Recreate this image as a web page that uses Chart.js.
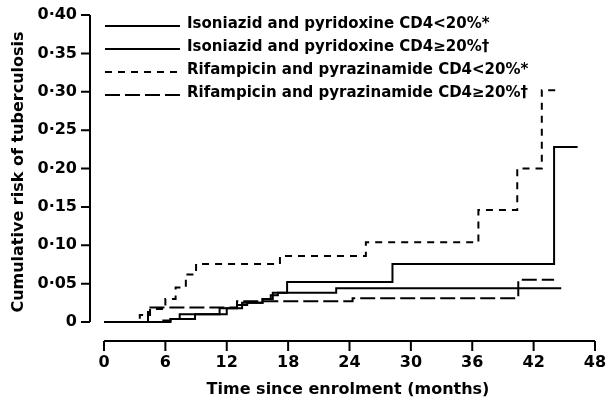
<!DOCTYPE html>
<html>
<head>
<meta charset="utf-8">
<script src="https://cdn.jsdelivr.net/npm/chart.js@4/dist/chart.umd.min.js"></script>
<style>
  html, body { margin: 0; padding: 0; background: #fff; }
  #wrap { width: 607px; height: 412px; }
</style>
</head>
<body>
<div id="wrap"><canvas id="kmChart" width="607" height="412"></canvas></div>
<script>
// Kaplan-Meier style step data (time in months, cumulative risk)
const seriesNames = [
  'Isoniazid and pyridoxine CD4<20%*',
  'Isoniazid and pyridoxine CD4\u226520%\u2020',
  'Rifampicin and pyrazinamide CD4<20%*',
  'Rifampicin and pyrazinamide CD4\u226520%\u2020'
];

const inhLowTime = [0, 5.8, 6.5, 7.4, 11.3, 13, 14, 15.5, 16.3, 17, 17.9, 28.2, 44, 46.3];
const inhLowRisk = [0, 0.002, 0.004, 0.01, 0.018, 0.022, 0.025, 0.03, 0.035, 0.038, 0.052, 0.0755, 0.228, 0.228];

const inhHighTime = [0, 6.5, 8.9, 12, 13.5, 15.5, 16.5, 22.7, 44.7];
const inhHighRisk = [0, 0.004, 0.01, 0.018, 0.025, 0.03, 0.038, 0.044, 0.044];

const rpLowTime = [0, 3.5, 4.5, 6, 7, 8, 9, 17.2, 25.6, 36.6, 40.4, 42.8, 44.7];
const rpLowRisk = [0, 0.009, 0.017, 0.03, 0.045, 0.062, 0.0755, 0.086, 0.104, 0.146, 0.20, 0.302, 0.302];

const rpHighTime = [0, 4.3, 13, 24.3, 40.5, 44];
const rpHighRisk = [0, 0.019, 0.027, 0.031, 0.055, 0.055];

const xTicks = [0, 6, 12, 18, 24, 30, 36, 42, 48];
const yTicks = [0, 0.05, 0.10, 0.15, 0.20, 0.25, 0.30, 0.35, 0.40];
const yTickLabels = ['0', '0\u00b705', '0\u00b710', '0\u00b715', '0\u00b720', '0\u00b725', '0\u00b730', '0\u00b735', '0\u00b740'];

const FONT = '"DejaVu Sans", sans-serif';
const INK = '#000';

function toPoints(times, risks) {
  return times.map((t, i) => ({ x: t, y: risks[i] }));
}

function stepSet(label, times, risks, dash) {
  return {
    label: label,
    data: toPoints(times, risks),
    borderColor: INK,
    borderWidth: 2,
    borderDash: dash,
    stepped: 'before',
    pointRadius: 0,
    fill: false,
    clip: false
  };
}

// draws the detached axes, titles and the in-plot legend
const axesPlugin = {
  id: 'axesPlugin',
  afterDraw(chart) {
    const ctx = chart.ctx;
    const xs = chart.scales.x;
    const ys = chart.scales.y;
    ctx.save();
    ctx.strokeStyle = INK;
    ctx.fillStyle = INK;
    ctx.lineWidth = 2;

    // y axis
    const axX = 90;
    ctx.beginPath();
    ctx.moveTo(axX, ys.getPixelForValue(0.40));
    ctx.lineTo(axX, ys.getPixelForValue(0));
    yTicks.forEach(v => {
      const py = ys.getPixelForValue(v);
      ctx.moveTo(axX, py);
      ctx.lineTo(axX - 9, py);
    });
    ctx.stroke();
    ctx.font = 'bold 16px ' + FONT;
    ctx.textAlign = 'right';
    ctx.textBaseline = 'middle';
    yTicks.forEach((v, i) => ctx.fillText(yTickLabels[i], 77, ys.getPixelForValue(v)));

    // x axis
    const axY = 341;
    ctx.beginPath();
    ctx.moveTo(xs.getPixelForValue(0), axY);
    ctx.lineTo(xs.getPixelForValue(48), axY);
    xTicks.forEach(v => {
      const px = xs.getPixelForValue(v);
      ctx.moveTo(px, axY);
      ctx.lineTo(px, axY + 10);
    });
    ctx.stroke();
    ctx.textAlign = 'center';
    ctx.textBaseline = 'middle';
    xTicks.forEach(v => ctx.fillText(String(v), xs.getPixelForValue(v), 363));

    // titles
    ctx.font = 'bold 16px ' + FONT;
    ctx.fillText('Time since enrolment (months)', 348, 390);
    ctx.save();
    ctx.translate(19, 172);
    ctx.rotate(-Math.PI / 2);
    ctx.fillText('Cumulative risk of tuberculosis', 0, 0);
    ctx.restore();

    // legend
    ctx.font = 'bold 15px ' + FONT;
    ctx.textAlign = 'left';
    chart.data.datasets.forEach((ds, i) => {
      const ly = 24 + i * 23;
      ctx.setLineDash(ds.borderDash || []);
      ctx.beginPath();
      ctx.moveTo(105, ly + 2);
      ctx.lineTo(180, ly + 2);
      ctx.stroke();
      ctx.setLineDash([]);
      ctx.fillText(ds.label, 187, ly);
    });
    ctx.restore();
  }
};

function initChart() {
  const canvas = document.getElementById('kmChart');
  new Chart(canvas, {
    type: 'line',
    data: {
      datasets: [
        stepSet(seriesNames[0], inhLowTime, inhLowRisk, []),
        stepSet(seriesNames[1], inhHighTime, inhHighRisk, []),
        stepSet(seriesNames[2], rpLowTime, rpLowRisk, [7, 6]),
        stepSet(seriesNames[3], rpHighTime, rpHighRisk, [15, 5])
      ]
    },
    options: {
      responsive: false,
      devicePixelRatio: 1,
      animation: false,
      layout: { padding: { left: 104, right: 12, top: 15, bottom: 90 } },
      plugins: { legend: { display: false }, tooltip: { enabled: false } },
      scales: {
        x: { type: 'linear', min: 0, max: 48, display: false },
        y: { type: 'linear', min: 0, max: 0.40, display: false }
      }
    },
    plugins: [axesPlugin]
  });
}

document.addEventListener('DOMContentLoaded', initChart);
</script>
</body>
</html>
